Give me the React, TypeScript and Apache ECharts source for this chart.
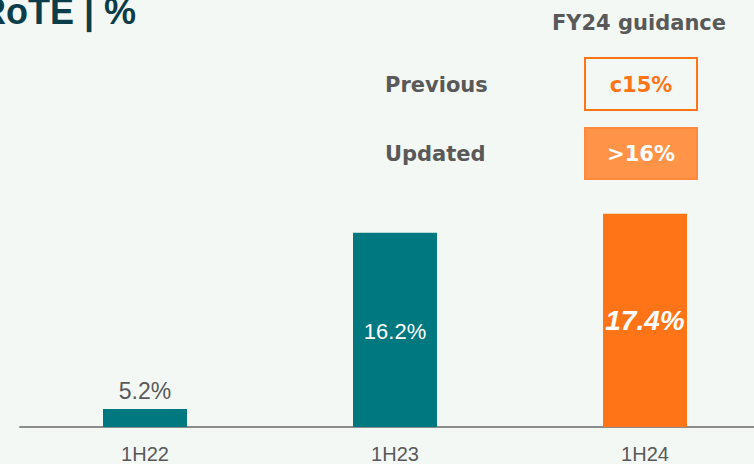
import React, { useEffect, useRef } from "react";
import * as echarts from "echarts";

const categories = ["1H22", "1H23", "1H24"];
const rote = [5.2, 16.2, 17.4];
const guidanceTitle = "FY24 guidance";
const guidanceRows = ["Previous", "Updated"];
const guidanceValues = ["c15%", ">16%"];
const chartTitle = "RoTE | %";

const TEAL = "#00787f";
const ORANGE = "#ff7417";
const GREY = "#595959";
const BG = "#f3f8f5";

export default function App() {
  const ref = useRef<HTMLDivElement>(null);
  useEffect(() => {
    if (!ref.current) return;
    const chart = echarts.init(ref.current, undefined, { renderer: "svg" });
    const labelFor = (i: number) => {
      if (i === 0)
        return { show: true, position: "top", distance: 7, color: GREY, fontSize: 23, fontFamily: "Liberation Sans", formatter: "{c}%" };
      if (i === 1)
        return { show: true, position: "inside", offset: [0, 2], color: "#ffffff", fontSize: 22, fontFamily: "Liberation Sans", formatter: "{c}%" };
      return { show: true, position: "inside", color: "#ffffff", fontSize: 28, fontWeight: "bold", fontStyle: "italic", fontFamily: "Liberation Sans", formatter: "{c}%" };
    };
    const boldText = { fontFamily: "DejaVu Sans", fontWeight: "bold", fontSize: 21 } as any;
    chart.setOption({
      animation: false,
      backgroundColor: BG,
      grid: { left: 20, right: 0, top: 172, bottom: 36, containLabel: false },
      xAxis: {
        type: "category",
        data: categories,
        axisLine: { show: true, lineStyle: { color: "#8c8c8c", width: 2 } },
        axisTick: { show: false },
        axisLabel: { color: GREY, fontSize: 20, fontFamily: "Liberation Sans", margin: 17 },
      },
      yAxis: { type: "value", min: 4.08, max: 20, show: false, splitLine: { show: false } },
      series: [
        {
          type: "bar",
          barWidth: 84,
          data: rote.map((v, i) => ({
            value: v,
            itemStyle: { color: i === 2 ? ORANGE : TEAL },
            label: labelFor(i),
          })),
        },
      ],
      graphic: [
        {
          type: "text",
          left: -20,
          top: -7,
          style: { text: chartTitle, fill: "#0b3c49", fontSize: 36, fontWeight: "bold", fontFamily: "Liberation Sans" },
        },
        {
          type: "text",
          x: 639,
          y: 23,
          style: { text: guidanceTitle, fill: GREY, align: "center", verticalAlign: "middle", ...boldText },
        },
        ...guidanceRows.map((t, i) => ({
          type: "text",
          x: 385,
          y: 85 + i * 69,
          style: { text: t, fill: GREY, align: "left", verticalAlign: "middle", ...boldText },
        })),
        {
          type: "rect",
          shape: { x: 585, y: 58, width: 112, height: 52 },
          style: { fill: "none", stroke: ORANGE, lineWidth: 2 },
        },
        {
          type: "rect",
          shape: { x: 585, y: 128, width: 112, height: 51 },
          style: { fill: "#ff9449", stroke: "#ff8a3c", lineWidth: 2 },
        },
        ...guidanceValues.map((t, i) => ({
          type: "text",
          x: 641,
          y: 85 + i * 69,
          z: 10,
          style: { text: t, fill: i === 0 ? ORANGE : "#ffffff", align: "center", verticalAlign: "middle", ...boldText },
        })),
      ],
    });
    return () => chart.dispose();
  }, []);
  return (
    <div style={{ position: "fixed", left: 0, top: 0, width: 754, height: 464, overflow: "hidden", background: BG }}>
      <div ref={ref} style={{ width: 770, height: 464 }} />
    </div>
  );
}
